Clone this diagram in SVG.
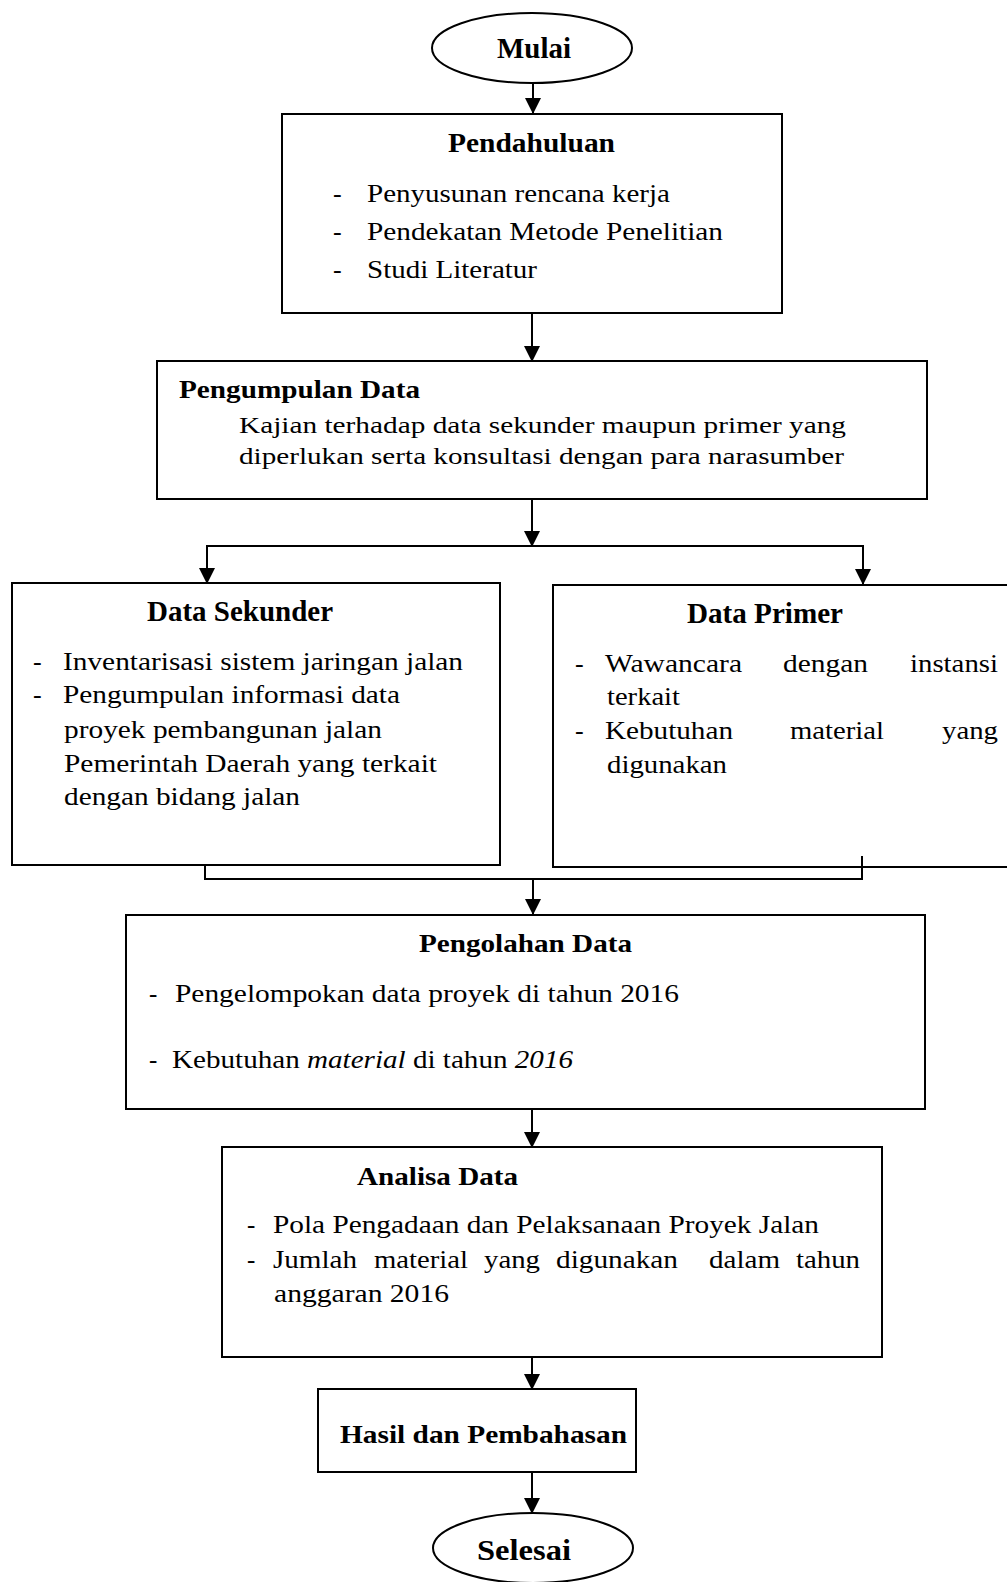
<svg xmlns="http://www.w3.org/2000/svg" width="1007" height="1582" viewBox="0 0 1007 1582">
<style>
text{font-family:"Liberation Serif","Times New Roman",serif;fill:#000}
.b{font-weight:bold}
.box{fill:#fff;stroke:#000;stroke-width:2}
.ln{fill:none;stroke:#000;stroke-width:2}
.r26{font-size:26px}
.r25{font-size:25px}
.r24{font-size:24px}
.i{font-style:italic}
</style>
<defs>
<marker id="ah" markerUnits="userSpaceOnUse" markerWidth="16" markerHeight="16" viewBox="0 0 16 16" refX="16" refY="8" orient="auto">
<path d="M0,0 L16,8 L0,16 Z" fill="#000"/>
</marker>
</defs>
<rect width="1007" height="1582" fill="#fff"/>

<g id="connectors">
<line class="ln" x1="533" y1="83" x2="533" y2="114" marker-end="url(#ah)"/>
<line class="ln" x1="532" y1="313" x2="532" y2="362" marker-end="url(#ah)"/>
<line class="ln" x1="532" y1="499" x2="532" y2="547" marker-end="url(#ah)"/>
<path class="ln" d="M532,546 H207 V584" marker-end="url(#ah)"/>
<path class="ln" d="M532,546 H863 V585" marker-end="url(#ah)"/>
<polyline class="ln" points="205,856 205,879 862,879 862,856"/>
<line class="ln" x1="533" y1="879" x2="533" y2="915" marker-end="url(#ah)"/>
<line class="ln" x1="532" y1="1110" x2="532" y2="1148" marker-end="url(#ah)"/>
<line class="ln" x1="532" y1="1357" x2="532" y2="1390" marker-end="url(#ah)"/>
<line class="ln" x1="532" y1="1472" x2="532" y2="1514" marker-end="url(#ah)"/>
</g>

<g id="mulai">
<ellipse class="box" cx="532" cy="48" rx="100" ry="35"/>
<text class="b" x="497" y="58" font-size="29" textLength="74" lengthAdjust="spacingAndGlyphs">Mulai</text>
</g>

<g id="pendahuluan">
<rect class="box" x="282" y="114" width="500" height="199"/>
<text class="b" x="448" y="152" font-size="27" textLength="167" lengthAdjust="spacingAndGlyphs">Pendahuluan</text>
<text class="r26" x="333" y="202">-</text>
<text class="r26" x="367" y="202" textLength="303" lengthAdjust="spacingAndGlyphs">Penyusunan rencana kerja</text>
<text class="r26" x="333" y="240">-</text>
<text class="r26" x="367" y="240" textLength="356" lengthAdjust="spacingAndGlyphs">Pendekatan Metode Penelitian</text>
<text class="r26" x="333" y="278">-</text>
<text class="r26" x="367" y="278" textLength="170" lengthAdjust="spacingAndGlyphs">Studi Literatur</text>
</g>

<g id="pengumpulan">
<rect class="box" x="157" y="361" width="770" height="138"/>
<text class="b" x="179" y="398" font-size="25" textLength="241" lengthAdjust="spacingAndGlyphs">Pengumpulan Data</text>
<text class="r24" x="239" y="433" textLength="607" lengthAdjust="spacingAndGlyphs">Kajian terhadap data sekunder maupun primer yang</text>
<text class="r24" x="239" y="464" textLength="605" lengthAdjust="spacingAndGlyphs">diperlukan serta konsultasi dengan para narasumber</text>
</g>

<g id="data-sekunder">
<rect class="box" x="12" y="583" width="488" height="282"/>
<text class="b" x="147" y="621" font-size="29" textLength="186" lengthAdjust="spacingAndGlyphs">Data Sekunder</text>
<text class="r26" x="33" y="670">-</text>
<text class="r26" x="63" y="670" textLength="400" lengthAdjust="spacingAndGlyphs">Inventarisasi sistem jaringan jalan</text>
<text class="r26" x="33" y="703">-</text>
<text class="r26" x="63" y="703" textLength="337" lengthAdjust="spacingAndGlyphs">Pengumpulan informasi data</text>
<text class="r26" x="64" y="738" textLength="318" lengthAdjust="spacingAndGlyphs">proyek pembangunan jalan</text>
<text class="r26" x="64" y="772" textLength="373" lengthAdjust="spacingAndGlyphs">Pemerintah Daerah yang terkait</text>
<text class="r26" x="64" y="805" textLength="236" lengthAdjust="spacingAndGlyphs">dengan bidang jalan</text>
</g>

<g id="data-primer">
<polyline class="ln" points="1012,585 553,585 553,867 1012,867"/>
<text class="b" x="687" y="623" font-size="29" textLength="156" lengthAdjust="spacingAndGlyphs">Data Primer</text>
<text class="r26" x="575" y="672">-</text>
<text class="r26" x="605" y="672" textLength="137" lengthAdjust="spacingAndGlyphs">Wawancara</text>
<text class="r26" x="783" y="672" textLength="85" lengthAdjust="spacingAndGlyphs">dengan</text>
<text class="r26" x="910" y="672" textLength="88" lengthAdjust="spacingAndGlyphs">instansi</text>
<text class="r26" x="607" y="705" textLength="73" lengthAdjust="spacingAndGlyphs">terkait</text>
<text class="r26" x="575" y="739">-</text>
<text class="r26" x="605" y="739" textLength="128" lengthAdjust="spacingAndGlyphs">Kebutuhan</text>
<text class="r26" x="790" y="739" textLength="94" lengthAdjust="spacingAndGlyphs">material</text>
<text class="r26" x="942" y="739" textLength="56" lengthAdjust="spacingAndGlyphs">yang</text>
<text class="r26" x="607" y="773" textLength="120" lengthAdjust="spacingAndGlyphs">digunakan</text>
</g>

<g id="pengolahan">
<rect class="box" x="126" y="915" width="799" height="194"/>
<text class="b" x="419" y="952" font-size="25" textLength="213" lengthAdjust="spacingAndGlyphs">Pengolahan Data</text>
<text class="r25" x="149" y="1002">-</text>
<text class="r25" x="175" y="1002" textLength="504" lengthAdjust="spacingAndGlyphs">Pengelompokan data proyek di tahun 2016</text>
<text class="r25" x="149" y="1068">-</text>
<text class="r25" x="172" y="1068" textLength="401" lengthAdjust="spacingAndGlyphs">Kebutuhan <tspan class="i">material</tspan> di tahun <tspan class="i">2016</tspan></text>
</g>

<g id="analisa">
<rect class="box" x="222" y="1147" width="660" height="210"/>
<text class="b" x="357" y="1185" font-size="26" textLength="161" lengthAdjust="spacingAndGlyphs">Analisa Data</text>
<text class="r25" x="247" y="1233">-</text>
<text class="r25" x="273" y="1233" textLength="546" lengthAdjust="spacingAndGlyphs">Pola Pengadaan dan Pelaksanaan Proyek Jalan</text>
<text class="r25" x="247" y="1268">-</text>
<text class="r25" x="273" y="1268" textLength="84" lengthAdjust="spacingAndGlyphs">Jumlah</text>
<text class="r25" x="374" y="1268" textLength="94" lengthAdjust="spacingAndGlyphs">material</text>
<text class="r25" x="484" y="1268" textLength="56" lengthAdjust="spacingAndGlyphs">yang</text>
<text class="r25" x="556" y="1268" textLength="122" lengthAdjust="spacingAndGlyphs">digunakan</text>
<text class="r25" x="709" y="1268" textLength="71" lengthAdjust="spacingAndGlyphs">dalam</text>
<text class="r25" x="796" y="1268" textLength="64" lengthAdjust="spacingAndGlyphs">tahun</text>
<text class="r25" x="274" y="1302" textLength="175" lengthAdjust="spacingAndGlyphs">anggaran 2016</text>
</g>

<g id="hasil">
<rect class="box" x="318" y="1389" width="318" height="83"/>
<text class="b" x="340" y="1443" font-size="25" textLength="287" lengthAdjust="spacingAndGlyphs">Hasil dan Pembahasan</text>
</g>

<g id="selesai">
<ellipse class="box" cx="533" cy="1548" rx="100" ry="35"/>
<text class="b" x="477" y="1560" font-size="30" textLength="94" lengthAdjust="spacingAndGlyphs">Selesai</text>
</g>
</svg>
